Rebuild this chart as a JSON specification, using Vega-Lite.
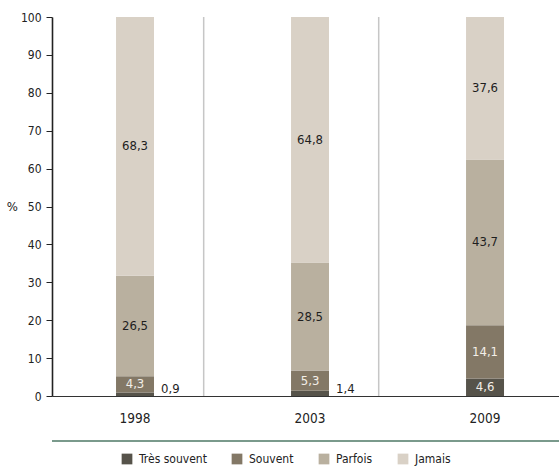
{
  "$schema": "https://vega.github.io/schema/vega-lite/v6.json",
  "width": 507,
  "height": 379,
  "autosize": {"type": "none"},
  "padding": {"left": 52, "top": 17, "right": 0, "bottom": 72},
  "background": "white",
  "config": {
    "locale": {"number": {"decimal": ",", "thousands": " ", "grouping": [3], "currency": ["", " €"]}},
    "view": {"stroke": null},
    "font": "DejaVu Sans Condensed, DejaVu Sans, sans-serif",
    "axisX": {"domainColor": "#333333", "domainWidth": 1.2, "ticks": false, "labelFontSize": 13.5, "labelColor": "#222222", "labelPadding": 15, "labelAngle": 0, "grid": false},
    "axisY": {"domainColor": "#222222", "domainWidth": 1.6, "tickColor": "#222222", "tickSize": 6, "tickCount": 11, "labelFontSize": 12, "labelColor": "#222222", "labelPadding": 5, "labelOverlap": false, "grid": false, "titleAngle": 0, "titleAlign": "right", "titleBaseline": "middle", "titleFontSize": 13, "titleFontWeight": "normal", "titleColor": "#222222", "titlePadding": 3},
    "legend": {"orient": "none", "legendX": 69, "legendY": 436, "direction": "horizontal", "title": null, "symbolType": "square", "symbolSize": 115, "symbolStrokeWidth": 0, "labelFontSize": 12, "labelColor": "#222222", "columnPadding": 24, "labelOffset": 6, "padding": 0}
  },
  "data": {
    "values": [
      {"year": "1998", "category": "Très souvent", "value": 0.9},
      {"year": "1998", "category": "Souvent", "value": 4.3},
      {"year": "1998", "category": "Parfois", "value": 26.5},
      {"year": "1998", "category": "Jamais", "value": 68.3},
      {"year": "2003", "category": "Très souvent", "value": 1.4},
      {"year": "2003", "category": "Souvent", "value": 5.3},
      {"year": "2003", "category": "Parfois", "value": 28.5},
      {"year": "2003", "category": "Jamais", "value": 64.8},
      {"year": "2009", "category": "Très souvent", "value": 4.6},
      {"year": "2009", "category": "Souvent", "value": 14.1},
      {"year": "2009", "category": "Parfois", "value": 43.7},
      {"year": "2009", "category": "Jamais", "value": 37.6}
    ]
  },
  "layer": [
    {
      "transform": [{"filter": "datum.category == 'Jamais' && datum.year != '1998'"}],
      "mark": {"type": "rule", "color": "#c6c6c6", "strokeWidth": 1.5},
      "encoding": {
        "x": {"field": "year", "type": "ordinal", "title": null, "bandPosition": -2.3},
        "y": {"datum": 0, "title": "%", "axis": {"values": [0, 10, 20, 30, 40, 50, 60, 70, 80, 90, 100], "tickCount": 11}},
        "y2": {"datum": 100}
      }
    },
    {
      "mark": {"type": "rule", "color": "#7a9a8c", "strokeWidth": 2},
      "encoding": {"y": {"datum": -11.9, "title": "%", "axis": {"values": [0, 10, 20, 30, 40, 50, 60, 70, 80, 90, 100], "tickCount": 11}}}
    },
    {
      "mark": {"type": "bar"},
      "encoding": {
        "x": {"field": "year", "type": "ordinal", "title": null, "scale": {"paddingInner": 0.783, "paddingOuter": 0.34, "align": 0.538}},
        "y": {"field": "value", "type": "quantitative", "stack": "zero", "title": "%", "scale": {"domain": [0, 100]}, "axis": {"values": [0, 10, 20, 30, 40, 50, 60, 70, 80, 90, 100], "tickCount": 11}},
        "color": {"field": "category", "type": "nominal", "scale": {"domain": ["Très souvent", "Souvent", "Parfois", "Jamais"], "range": ["#56534a", "#837866", "#b9b09f", "#d9d1c6"]}},
        "order": {"field": "category", "sort": "descending"}
      }
    },
    {
      "mark": {"type": "text", "fontSize": 13, "baseline": "middle"},
      "encoding": {
        "x": {"field": "year", "type": "ordinal", "title": null},
        "y": {"field": "value", "type": "quantitative", "stack": "zero", "bandPosition": 0.5, "title": "%", "axis": {"values": [0, 10, 20, 30, 40, 50, 60, 70, 80, 90, 100], "tickCount": 11}},
        "detail": {"field": "category"},
        "order": {"field": "category", "sort": "descending"},
        "text": {"condition": {"test": "datum.value < 2", "value": ""}, "field": "value", "type": "quantitative", "format": ".1f"},
        "color": {"condition": {"test": "datum.category == 'Souvent' || datum.category == 'Très souvent'", "value": "#f3efe8"}, "value": "#1e1e1e"}
      }
    },
    {
      "transform": [{"filter": "datum.category == 'Très souvent' && datum.value < 2"}],
      "mark": {"type": "text", "fontSize": 13, "align": "left", "baseline": "alphabetic", "dx": 7, "dy": -3, "color": "#1e1e1e"},
      "encoding": {
        "x": {"field": "year", "type": "ordinal", "title": null, "bandPosition": 1},
        "y": {"datum": 0, "title": "%", "axis": {"values": [0, 10, 20, 30, 40, 50, 60, 70, 80, 90, 100], "tickCount": 11}},
        "text": {"field": "value", "type": "quantitative", "format": ".1f"}
      }
    }
  ]
}
